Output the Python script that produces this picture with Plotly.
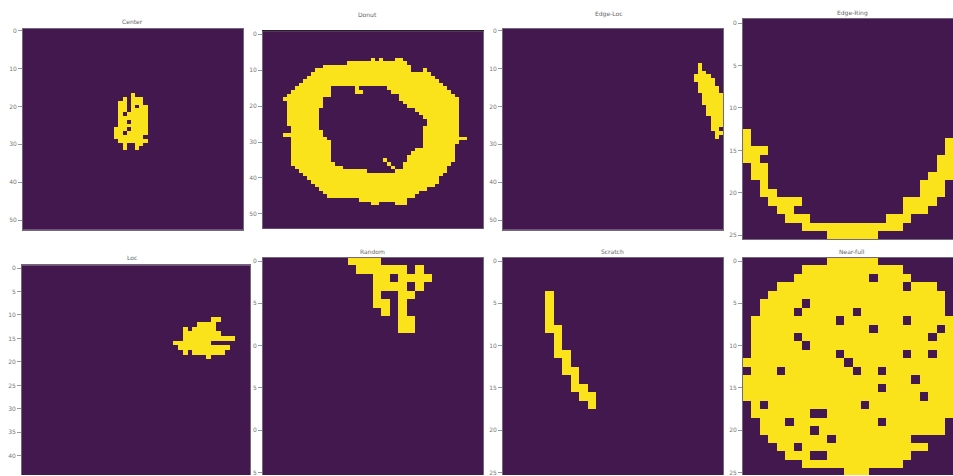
import numpy as np
import plotly.graph_objects as go

W, H = 953, 476
PURPLE = "#43184f"
YELLOW = "#fae31b"
EDGE = "#75687c"

TITLES = ["Center", "Donut", "Edge-Loc", "Edge-Ring", "Loc", "Random", "Scratch", "Near-full"]
TITLE_POS = [(132, 20), (367, 13), (608, 12), (852, 11), (132, 257), (372, 251), (612, 251), (852, 251)]

# (row, first col, last col) runs of failing cells
CENTER = [(17,26,26),(18,24,24),(18,26,28),(19,23,24),(19,26,28),(20,23,24),(20,26,26),(20,28,29),
          (21,23,24),(21,26,29),(22,23,23),(22,25,29),(23,23,29),(24,23,24),(24,26,29),(25,23,29),
          (26,22,24),(26,26,29),(27,22,23),(27,25,29),(28,22,28),(29,23,25),(29,26,29),
          (30,24,24),(30,27,28),(31,24,24),(31,27,27)]

DONUT_OUTER = [(7,27,27),(7,29,29),(7,33,34),(8,21,35),(9,15,36),(10,13,36),(10,40,40),(11,12,41),(12,11,42),
               (13,10,43),(14,9,44),(15,8,45),(16,7,46),(17,6,47),(18,5,48),(19,6,48),(20,6,48),(21,6,48),
               (22,6,48),(23,6,48),(24,6,48),(25,6,48),(26,7,48),(27,7,48),(28,5,48),(29,7,50),(30,7,48),
               (31,7,47),(32,7,47),(33,7,47),(34,7,47),(35,7,47),(36,7,46),(37,8,45),(38,9,45),(39,10,44),
               (40,11,43),(41,12,43),(42,13,42),(43,14,40),(44,15,38),(45,16,37),(46,24,35),(47,27,28),(47,33,35)]
DONUT_HOLE = [(15,17,22),(15,24,30),(16,17,22),(16,25,31),(17,17,33),(18,15,33),(19,15,34),(20,15,35),
              (21,14,37),(22,14,38),(23,14,39),(24,14,40),(25,14,40),(26,14,39),(27,15,39),(28,15,39),
              (29,16,39),(30,17,39),(31,17,39),(32,17,37),(33,17,36),(34,17,35),(35,17,29),(35,31,35),
              (36,18,30),(36,32,34),(37,20,31),(37,33,34),(38,26,31),(38,32,32)]

EDGE_LOC = [(9,47,47),(10,47,47),(11,47,48),(12,46,49),(13,46,50),(14,47,50),(15,47,51),(16,47,51),(17,48,52),
            (18,48,52),(19,48,52),(20,49,52),(21,49,52),(22,49,52),(23,50,52),(24,50,52),(25,50,52),(26,50,51),
            (27,51,52),(28,51,51)]

EDGE_RING = [(13,0,0),(14,0,0),(15,0,2),(16,0,1),(17,1,2),(18,1,2),(19,2,2),(20,2,3),(21,3,6),(22,4,5),(23,5,7),
             (24,7,18),(25,10,15),(23,17,19),(22,19,21),(21,19,22),(20,21,23),(19,21,23),(18,22,25),(17,23,25),
             (16,23,25),(15,24,25),(14,24,25)]

LOC = [(11,40,41),(12,37,40),(13,34,34),(13,36,40),(14,34,41),(15,34,44),(16,32,39),(17,33,43),(18,34,34),
       (18,36,42),(19,39,39)]

RANDOM = [(0,10,13),(1,11,16),(1,18,18),(2,13,14),(2,16,19),(3,13,16),(3,18,18),(4,13,13),(4,16,17),
          (5,13,14),(5,16,16),(6,14,14),(6,16,16),(7,16,17),(8,16,17)]

SCRATCH = [(4,5,5),(5,5,5),(6,5,5),(7,5,5),(8,5,6),(9,6,6),(10,6,6),(11,6,7),(12,7,7),(13,7,8),(14,8,8),
           (15,8,9),(16,9,10),(17,10,10)]

NEAR_OUTLINE = [(0,10,15),(1,7,18),(2,6,19),(3,4,22),(4,3,23),(5,2,23),(6,2,23),(7,1,25),(8,1,25),(9,1,25),(10,1,25),
                (11,1,25),(12,0,25),(13,0,25),(14,0,25),(15,0,25),(16,0,25),(17,1,25),(18,1,25),(19,2,23),(20,2,23),
                (21,3,19),(22,4,21),(23,5,19),(24,7,18),(25,12,14)]
NEAR_HOLES = [(2,15,15),(3,19,19),(5,7,7),(6,6,6),(6,13,13),(7,11,11),(7,19,19),(8,15,15),(8,23,23),(9,22,22),
              (9,6,6),(10,7,7),(11,11,11),(11,19,19),(11,22,22),(12,12,12),(13,13,13),(13,16,16),(13,0,0),(13,4,4),
              (14,20,20),(15,16,16),(16,21,21),(17,2,2),(17,14,14),(18,8,9),(19,5,5),(19,16,16),(20,8,8),(21,10,10),
              (22,6,6),(23,8,9)]

CENTER_TICKS = ["0", "10", "20", "30", "40", "50"]
RING_TICKS = ["0", "5", "10", "15", "20", "25"]
LOC_TICKS = ["0", "5", "10", "15", "20", "25", "30", "35", "40"]
RANDOM_TICKS = ["0", "5", "0", "5", "0", "5"]


def grid(n, on, off=()):
    m = np.zeros((n, n), dtype=int)
    for r, a, b in on:
        m[r, a:b + 1] = 1
    for r, a, b in off:
        m[r, a:b + 1] = 0
    return m


# z, tick labels, tick step, box (x0,x1,y0,y1 px), xrange, yrange
panels = [
    (grid(53, CENTER), CENTER_TICKS, 10, (23, 243, 27, 229), (-0.5, 52.5), (52.5, -0.5)),
    (grid(55, DONUT_OUTER, DONUT_HOLE), CENTER_TICKS, 10, (263, 483, 29.3, 228), (-0.5, 54.5), (54.06, -0.83)),
    (grid(53, EDGE_LOC), CENTER_TICKS, 10, (503, 723, 27, 229), (-0.5, 52.5), (52.5, -0.5)),
    (grid(26, EDGE_RING), RING_TICKS, 5, (743, 953, 17, 239), (-0.5, 24.41), (25.5, -0.5)),
    (grid(48, LOC), LOC_TICKS, 5, (22, 250, 265, 476), (-0.5, 47.8), (44.08, -0.57)),
    (grid(26, RANDOM), RANDOM_TICKS, 5, (263, 483, 257.3, 476), (-0.5, 25.5), (25.3, -0.4)),
    (grid(26, SCRATCH), RING_TICKS, 5, (503, 723, 257.3, 476), (-0.5, 25.5), (25.3, -0.4)),
    (grid(26, NEAR_OUTLINE, NEAR_HOLES), RING_TICKS, 5, (743, 953, 257.3, 476), (-0.5, 24.41), (25.3, -0.4)),
]

fig = go.Figure()
layout = dict(
    width=W, height=H, autosize=False,
    margin=dict(l=0, r=0, t=0, b=0, pad=0),
    paper_bgcolor="white", plot_bgcolor=PURPLE,
    showlegend=False, annotations=[],
)

for i, (z, ticks, step, box, xr, yr) in enumerate(panels, start=1):
    x0, x1, y0, y1 = box
    fig.add_trace(go.Heatmap(
        z=z, xaxis=f"x{i}", yaxis=f"y{i}", showscale=False, zmin=0, zmax=1, hoverinfo="skip",
        colorscale=[[0, PURPLE], [1, YELLOW]], xgap=0, ygap=0,
    ))
    layout[f"xaxis{i}"] = dict(domain=[x0 / W, x1 / W], range=list(xr), anchor=f"y{i}", side="top",
                               showline=True, linewidth=1,
                               linecolor="#222222" if i == 2 else EDGE,
                               mirror=i in (1, 3, 4),
                               showticklabels=False, ticks="", showgrid=False, zeroline=False)
    layout[f"yaxis{i}"] = dict(domain=[1 - y1 / H, 1 - y0 / H], range=list(yr), anchor=f"x{i}",
                               showline=True, linewidth=1, linecolor=EDGE,
                               mirror=i not in (4, 8),
                               tickmode="array", tickvals=[k * step for k in range(len(ticks))],
                               ticktext=ticks, ticks="outside", ticklen=4, tickwidth=1, tickcolor="#999999",
                               ticklabeloverflow="allow",
                               tickfont=dict(family="DejaVu Sans", size=6, color="#777777"),
                               showgrid=False, zeroline=False)
    tx, ty = TITLE_POS[i - 1]
    layout["annotations"].append(dict(
        text=TITLES[i - 1], x=tx / W, y=1 - ty / H, xref="paper", yref="paper", showarrow=False,
        xanchor="center", yanchor="middle",
        font=dict(family="DejaVu Sans", size=6, color="#666666"),
    ))

fig.update_layout(**layout)
fig.write_html("out.html", config={"displayModeBar": False},
               post_script="document.body.style.margin='0';document.body.style.overflow='hidden';")
